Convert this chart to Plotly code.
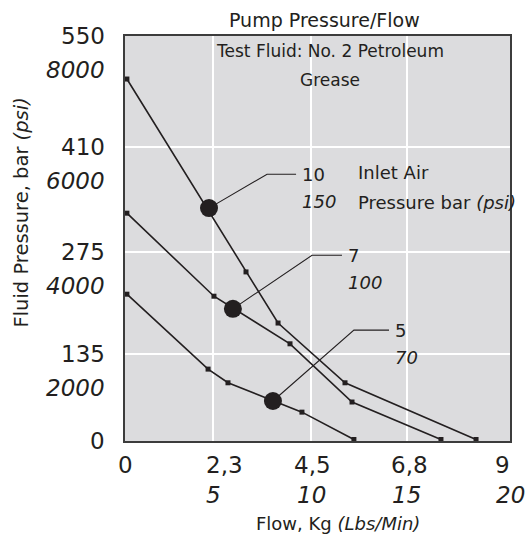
import plotly.graph_objects as go

# ---- data (flow in lbs/min, pressure in psi) ----
FLOW_10 = [0.1, 6.38, 8.07, 11.60, 18.51]
PSI_10 = [7150, 3340, 2330, 1150, 30]
FLOW_7 = [0.1, 4.69, 8.70, 11.97, 16.66]
PSI_7 = [4500, 2860, 1920, 770, 30]
FLOW_5 = [0.1, 4.38, 5.43, 9.33, 12.07]
PSI_5 = [2900, 1420, 1150, 570, 30]

# callouts: dot on curve, bend of leader, end of leader
CALLOUT_FLOW = [4.43, 5.69, 7.80]
CALLOUT_PSI = [4600, 2610, 790]
BEND_FLOW = [7.49, 9.86, 12.07]
BEND_PSI = [5270, 3670, 2190]
END_FLOW = [9.02, 11.44, 13.92]
AIR_BAR = ["10", "7", "5"]
AIR_PSI = ["150", "100", "70"]

# axis ticks (positions as drawn in the picture)
X_TICKS = [0, 4.66, 9.79, 14.88, 20]
X_KG = ["0", "2,3", "4,5", "6,8", "9"]
X_LBS = ["", "5", "10", "15", "20"]
Y_TICKS = [0, 1718, 3733, 5807, 8000]
Y_BAR = ["0", "135", "275", "410", "550"]
Y_PSI = ["", "2000", "4000", "6000", "8000"]

INK = "#231f20"
FONT = "DejaVu Sans"

fig = go.Figure()
for fx, py in [(FLOW_10, PSI_10), (FLOW_7, PSI_7), (FLOW_5, PSI_5)]:
    fig.add_trace(go.Scatter(x=fx, y=py, mode="lines+markers",
                             line=dict(color=INK, width=1.6),
                             marker=dict(symbol="square", size=5, color=INK),
                             hoverinfo="skip", showlegend=False, cliponaxis=False))

for i in range(3):
    fig.add_trace(go.Scatter(x=[CALLOUT_FLOW[i], BEND_FLOW[i], END_FLOW[i]],
                             y=[CALLOUT_PSI[i], BEND_PSI[i], BEND_PSI[i]],
                             mode="lines", line=dict(color=INK, width=1.1),
                             hoverinfo="skip", showlegend=False))
fig.add_trace(go.Scatter(x=CALLOUT_FLOW, y=CALLOUT_PSI, mode="markers",
                         marker=dict(symbol="circle", size=18, color=INK),
                         hoverinfo="skip", showlegend=False))

ann = []
def txt(text, x, y, size, xref="x", yref="y", xanchor="center", yanchor="middle",
        xshift=0, yshift=0, textangle=0):
    ann.append(dict(text=text, x=x, y=y, xref=xref, yref=yref, showarrow=False,
                    xanchor=xanchor, yanchor=yanchor, xshift=xshift, yshift=yshift,
                    textangle=textangle, font=dict(family=FONT, size=size, color=INK)))

# callout labels
for i in range(3):
    txt(AIR_BAR[i], END_FLOW[i], BEND_PSI[i], 18, xanchor="left", xshift=4)
    txt("<i>" + AIR_PSI[i] + "</i>", END_FLOW[i], BEND_PSI[i], 18,
        xanchor="left", xshift=4, yshift=-27)
txt("Inlet Air", 12.18, 5294, 18, xanchor="left")
txt("Pressure bar <i>(psi)</i>", 12.18, 4721, 18, xanchor="left")

# titles / notes
txt("Pump Pressure/Flow", 0.518, 1.0, 19, xref="paper", yref="paper", yshift=16)
txt("Test Fluid: No. 2 Petroleum", 10.8, 7700, 17)
txt("Grease", 10.8, 7140, 17)

# axis tick labels
X_NUDGE = [0, 11, 2, 2, -2]
L_NUDGE = [0, 0, 1, -1, 6]
for v, k, lb, n1, n2 in zip(X_TICKS, X_KG, X_LBS, X_NUDGE, L_NUDGE):
    txt(k, v, 0, 23, yref="paper", yshift=-24, xshift=n1)
    if lb:
        txt("<i>" + lb + "</i>", v, 0, 23, yref="paper", yshift=-54, xshift=n2)
for v, b, p in zip(Y_TICKS, Y_BAR, Y_PSI):
    txt(b, 0, v, 23, xref="paper", xanchor="right", xshift=-18)
    if p:
        txt("<i>" + p + "</i>", 0, v, 23, xref="paper", xanchor="right", xshift=-18, yshift=-34)

# axis titles
txt("Flow, Kg <i>(Lbs/Min)</i>", 0.553, 0, 18, xref="paper", yref="paper", yshift=-82)
txt("Fluid Pressure, bar <i>(psi)</i>", 0, 0.564, 19.5, xref="paper", yref="paper",
    xshift=-103, textangle=-90)

fig.update_layout(
    width=529, height=536,
    margin=dict(l=125, r=19, t=36, b=95),
    paper_bgcolor="white", plot_bgcolor="#dcdcde",
    annotations=ann,
    font=dict(family=FONT, color=INK),
    xaxis=dict(range=[0, 20.3], tickvals=X_TICKS[1:4], showticklabels=False,
               showgrid=True, gridcolor="white", gridwidth=1.5, zeroline=False,
               showline=True, linecolor="#3c3c3c", linewidth=2, mirror=True, ticks=""),
    yaxis=dict(range=[0, 8000], tickvals=Y_TICKS[1:4], showticklabels=False,
               showgrid=True, gridcolor="white", gridwidth=1.5, zeroline=False,
               showline=True, linecolor="#3c3c3c", linewidth=2, mirror=True, ticks=""),
)
fig.write_html("out.html", config={"displayModeBar": False})

# remove the default page margin so the figure sits at the window's corner
with open("out.html", "r", encoding="utf-8") as fh:
    page = fh.read()
page = page.replace("<head>", "<head><style>html,body{margin:0;padding:0;overflow:hidden;}</style>", 1)
with open("out.html", "w", encoding="utf-8") as fh:
    fh.write(page)
